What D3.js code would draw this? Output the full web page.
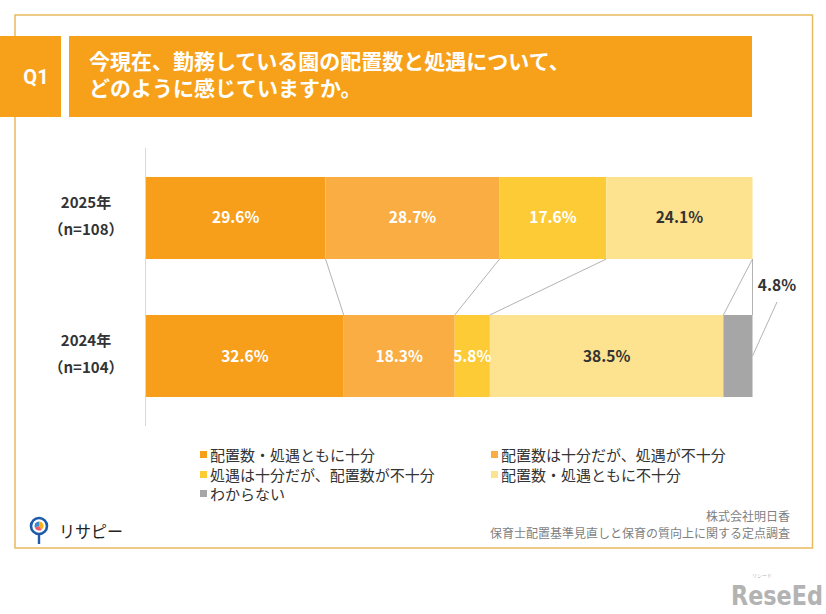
<!DOCTYPE html>
<html><head><meta charset="utf-8">
<script src="https://cdn.jsdelivr.net/npm/d3@7"></script>
<style>
html,body{margin:0;padding:0;background:#fff;}
svg{display:block;font-family:"Noto Sans CJK JP","Noto Sans",sans-serif;}
</style></head>
<body>
<svg id="chart" width="826" height="614"></svg>
<script>
// ---- data ----
const categories = ["2025年", "2024年"];
const sampleLabels = ["（n=108）", "（n=104）"];
const seriesNames = ["配置数・処遇ともに十分", "配置数は十分だが、処遇が不十分", "処遇は十分だが、配置数が不十分", "配置数・処遇ともに不十分", "わからない"];
const seriesEnough = [29.6, 32.6];
const seriesStaffOnly = [28.7, 18.3];
const seriesPayOnly = [17.6, 5.8];
const seriesNeither = [24.1, 38.5];
const seriesUnknown = [0, 4.8];
const colors = ["#F79E1B", "#FAAD42", "#FCCB36", "#FDE28F", "#A6A6A6"];
const labelColors = ["#fff", "#fff", "#fff", "#333", "#333"];
const titleLines = ["今現在、勤務している園の配置数と処遇について、", "どのように感じていますか。"];
const sourceLines = ["株式会社明日香", "保育士配置基準見直しと保育の質向上に関する定点調査"];

const seriesValues = [seriesEnough, seriesStaffOnly, seriesPayOnly, seriesNeither, seriesUnknown];
const keys = seriesNames;
const table = categories.map((c, i) => {
  const row = {cat: c};
  keys.forEach((k, j) => row[k] = seriesValues[j][i]);
  return row;
});

const svg = d3.select("#chart");

// frame
svg.append("rect").attr("x", 15).attr("y", 15).attr("width", 797.5).attr("height", 533)
  .attr("fill", "none").attr("stroke", "#E9BA5C").attr("stroke-width", 1.5);

// Title boxes
svg.append("rect").attr("x", 0).attr("y", 36).attr("width", 61).attr("height", 81).attr("fill", "#F7A11A");
svg.append("rect").attr("x", 69).attr("y", 36).attr("width", 683).attr("height", 81).attr("fill", "#F7A11A");
svg.append("text").attr("x", 36).attr("y", 84).attr("text-anchor", "middle")
  .attr("fill", "#fff").attr("font-size", 20).attr("font-weight", "bold")
  .attr("font-family", "Roboto, 'Liberation Sans', sans-serif").text("Q1");
svg.selectAll("text.title").data(titleLines).enter().append("text")
  .attr("class", "title").attr("x", 89).attr("y", (d, i) => 69 + i * 27)
  .attr("fill", "#fff").attr("font-size", 21).attr("font-weight", "bold").text(d => d);

// scales
const x = d3.scaleLinear().domain([0, 100]).range([146, 752.5]);
const y = d3.scaleBand().domain(categories).range([148, 426]).paddingInner(0.4058).paddingOuter(0.21);

const stack = d3.stack().keys(keys)(table);

// axis line
svg.append("line").attr("x1", x(0) - 0.5).attr("x2", x(0) - 0.5)
  .attr("y1", y.range()[0]).attr("y2", y.range()[1]).attr("stroke", "#d9d9d9").attr("stroke-width", 1);

// connector lines (series lines)
const catTop = categories[0], catBot = categories[1];
stack.forEach((layer) => {
  const a = layer[0][1], b = layer[1][1];
  svg.append("line")
    .attr("x1", x(a)).attr("y1", y(catTop) + y.bandwidth())
    .attr("x2", x(b)).attr("y2", y(catBot))
    .attr("stroke", "#a0a0a0").attr("stroke-width", 0.8);
});

// bars
const g = svg.append("g");
stack.forEach((layer, j) => {
  g.selectAll(null).data(layer).enter().append("rect")
    .attr("x", d => x(d[0])).attr("width", d => x(d[1]) - x(d[0]))
    .attr("y", (d, i) => y(categories[i])).attr("height", y.bandwidth())
    .attr("fill", colors[j]);
});

// data labels
stack.forEach((layer, j) => {
  layer.forEach((d, i) => {
    const v = d[1] - d[0];
    if (v <= 0) return;
    const inside = (x(d[1]) - x(d[0])) > 30;
    if (inside) {
      svg.append("text").attr("x", (x(d[0]) + x(d[1])) / 2)
        .attr("y", y(categories[i]) + y.bandwidth() / 2 + 5.5)
        .attr("text-anchor", "middle").attr("fill", labelColors[j])
        .attr("font-size", 15.5).attr("font-weight", "bold").text(v.toFixed(1) + "%");
    } else {
      const lx = 777, ly = 291;
      svg.append("text").attr("x", lx).attr("y", ly).attr("text-anchor", "middle")
        .attr("fill", labelColors[j]).attr("font-size", 15.5).attr("font-weight", "bold")
        .text(v.toFixed(1) + "%");
      svg.append("line").attr("x1", lx).attr("y1", ly + 11)
        .attr("x2", x(d[1])).attr("y2", y(categories[i]) + y.bandwidth() * 0.5)
        .attr("stroke", "#a0a0a0").attr("stroke-width", 0.8);
    }
  });
});

// category labels
categories.forEach((c, i) => {
  const cy = y(c) + y.bandwidth() / 2;
  svg.append("text").attr("x", 86).attr("y", cy - 10).attr("text-anchor", "middle")
    .attr("fill", "#333").attr("font-size", 15).attr("font-weight", "bold").text(c);
  svg.append("text").attr("x", 86).attr("y", cy + 17).attr("text-anchor", "middle")
    .attr("fill", "#333").attr("font-size", 15).attr("font-weight", "bold").text(sampleLabels[i]);
});

// legend
const legendPos = [[200, 455], [491, 455], [200, 475], [491, 475], [200, 494]];
keys.forEach((k, j) => {
  const [lx, ly] = legendPos[j];
  svg.append("rect").attr("x", lx).attr("y", ly - 4).attr("width", 7).attr("height", 7).attr("fill", colors[j]);
  svg.append("text").attr("x", lx + 10).attr("y", ly + 5.5).attr("fill", "#333")
    .attr("font-size", 15).text(k);
});

// source
sourceLines.forEach((s, i) => {
  svg.append("text").attr("x", 790).attr("y", 521 + i * 17).attr("text-anchor", "end")
    .attr("fill", "#7f7f7f").attr("font-size", 12).text(s);
});

// logo
const logo = svg.append("g");
logo.append("line").attr("x1", 39).attr("x2", 39).attr("y1", 535).attr("y2", 544)
  .attr("stroke", "#1d5aa8").attr("stroke-width", 2.4);
logo.append("circle").attr("cx", 39).attr("cy", 526).attr("r", 8)
  .attr("fill", "#fff").attr("stroke", "#1d5aa8").attr("stroke-width", 2.6);
const pie = d3.pie().sort(null)([40, 30, 30]);
const arc = d3.arc().innerRadius(0).outerRadius(4.5);
logo.selectAll("path.logo").data(pie).enter().append("path")
  .attr("transform", "translate(39,526)").attr("d", arc)
  .attr("fill", (d, i) => ["#F7B21A", "#EE5A6B", "#3A86D1"][i]);
logo.append("text").attr("x", 59).attr("y", 538).attr("fill", "#222")
  .attr("font-size", 17).attr("textLength", 64).attr("lengthAdjust", "spacingAndGlyphs").text("リサピー");

// watermark
svg.append("text").attr("x", 731).attr("y", 605).attr("fill", "#b3b3b3")
  .attr("font-size", 26).attr("font-weight", "bold")
  .attr("font-family", "'DejaVu Sans Condensed','Liberation Sans Narrow',sans-serif")
  .attr("textLength", 92).attr("lengthAdjust", "spacingAndGlyphs").text("ReseEd");
svg.append("text").attr("x", 752).attr("y", 577).attr("fill", "#b3b3b3")
  .attr("font-size", 5).text("リシード");
</script>
</body></html>
